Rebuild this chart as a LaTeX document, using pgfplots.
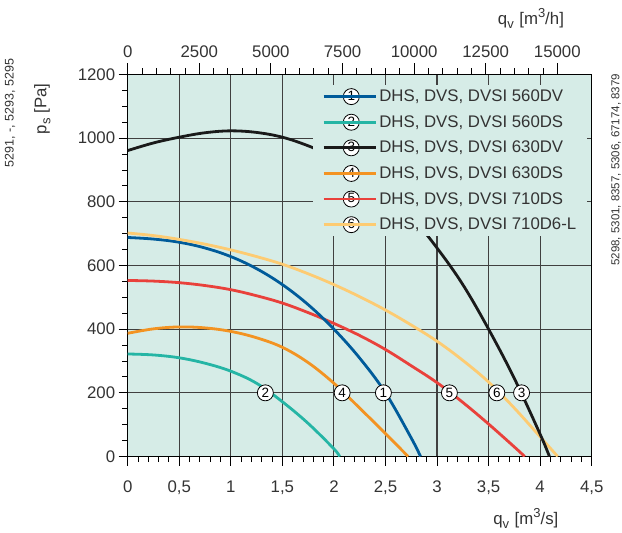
\documentclass[border=0pt]{standalone}
\usepackage{fontspec}
\setmainfont{Liberation Sans}
\usepackage{pgfplots}
\pgfplotsset{compat=1.18}
\definecolor{bg}{HTML}{D6ECE7}
\definecolor{gridc}{HTML}{404040}
\definecolor{txt}{HTML}{333333}
\definecolor{cBlue}{HTML}{005B9A}
\definecolor{cCyan}{HTML}{25B5A5}
\definecolor{cBlack}{HTML}{1A1A1A}
\definecolor{cOrange}{HTML}{F39322}
\definecolor{cRed}{HTML}{E9413B}
\definecolor{cYellow}{HTML}{FDCB72}
\tikzset{numcirc/.style={circle, draw=black, fill=white, line width=0.8bp, inner sep=0pt, minimum size=16bp, text=black, font=\fontsize{13.5bp}{14bp}\selectfont}}
\newcommand{\sub}[1]{\raisebox{-0.45ex}{\fontsize{13bp}{13bp}\selectfont #1}}
\newcommand{\sups}[1]{\raisebox{0.75ex}{\fontsize{13bp}{13bp}\selectfont #1}}
\begin{document}
\begin{tikzpicture}[font=\fontsize{16.8bp}{20bp}\selectfont]
\useasboundingbox (-127.7bp,-76.3bp) rectangle (494.3bp,456.5bp);
\begin{axis}[at={(0,0)}, anchor=south west, scale only axis, width=464bp, height=382bp,
  xmin=0, xmax=4.5, ymin=0, ymax=1200,
  axis background/.style={fill=bg},
  xtick={0,0.5,...,4.5},
  xticklabels={0,{0,5},1,{1,5},2,{2,5},3,{3,5},4,{4,5}},
  ytick={0,200,...,1200},
  yticklabels={0,200,400,600,800,1000,1200},
  minor x tick num=4, minor y tick num=3,
  xtick pos=bottom, ytick pos=left, tick align=outside,
  major tick length=9bp, minor tick length=5.5bp,
  every tick/.style={black, line width=0.9bp},
  grid=major, major grid style={line width=1.1bp, color=gridc},
  axis line style={line width=1.3bp, black},
  tick label style={text=txt},
  xticklabel style={yshift=-12bp},
  xlabel={q\sub{v}\,\,[m\sups{3}/s]},
  xlabel style={at={(axis description cs:0.858,-0.163)}, anchor=center, text=txt},
  ylabel={p\sub{s} [Pa]},
  ylabel style={at={(axis description cs:-0.184,0.91)}, anchor=center, text=txt},
  legend image code/.code={\draw[mark repeat=2, mark phase=2, #1] plot coordinates {(0bp,0bp) (19bp,0bp) (38bp,0bp)}; \path (0bp,0bp) -- (52bp,0bp);},
  legend cell align=left,
  legend style={at={(axis description cs:0.40,0.973)}, anchor=north west, fill=bg, draw=none,
    row sep=8.4bp, inner xsep=9bp, inner ysep=3bp, text=txt,
    font=\fontsize{16.8bp}{20bp}\selectfont},
  every axis plot/.append style={line width=2.8bp},
  smooth, tension=0.6,
  text mark as node=true,
  text mark style={/tikz/numcirc},
]
\addlegendimage{cBlue, mark=text, text mark={1}}
\addlegendentry{DHS, DVS, DVSI 560DV}
\addlegendimage{cCyan, mark=text, text mark={2}}
\addlegendentry{DHS, DVS, DVSI 560DS}
\addlegendimage{cBlack, mark=text, text mark={3}}
\addlegendentry{DHS, DVS, DVSI 630DV}
\addlegendimage{cOrange, mark=text, text mark={4}}
\addlegendentry{DHS, DVS, DVSI 630DS}
\addlegendimage{cRed, mark=text, text mark={5}}
\addlegendentry{DHS, DVS, DVSI 710DS}
\addlegendimage{cYellow, mark=text, text mark={6}}
\addlegendentry{DHS, DVS, DVSI 710D6-L}
% 2 cyan 560DS
\addplot[cCyan, forget plot] coordinates {(0,322) (0.25,319) (0.5,310) (0.75,293) (1.0,268) (1.25,230) (1.5,172) (1.75,104) (2.0,24) (2.055,0)};
% 4 orange 630DS
\addplot[cOrange, forget plot] coordinates {(0,387) (0.25,401) (0.5,407) (0.75,404) (1.0,393) (1.25,373) (1.5,343) (1.75,295) (2.0,230) (2.25,152) (2.5,72) (2.72,0)};
% 5 red 710DS
\addplot[cRed, forget plot] coordinates {(0,553) (0.25,551) (0.5,546) (0.75,537) (1.0,524) (1.25,505) (1.5,482) (1.75,452) (2.0,418) (2.25,380) (2.5,336) (2.75,285) (3.0,232) (3.25,170) (3.5,102) (3.75,30) (3.85,0)};
% 1 blue 560DV
\addplot[cBlue, forget plot] coordinates {(0,688) (0.25,683) (0.5,673) (0.75,655) (1.0,628) (1.25,590) (1.5,540) (1.75,477) (2.0,400) (2.25,309) (2.5,200) (2.75,58) (2.84,0)};
% 6 yellow 710D6-L
\addplot[cYellow, forget plot] coordinates {(0,702) (0.25,694) (0.5,682) (0.75,667) (1.0,649) (1.25,628) (1.5,604) (1.75,574) (2.0,540) (2.25,502) (2.5,460) (2.75,413) (3.0,362) (3.25,302) (3.5,234) (3.75,152) (4.0,62) (4.17,0)};
% 3 black 630DV
\addplot[cBlack, forget plot] coordinates {(0,961) (0.25,985) (0.5,1003) (0.75,1017) (1.0,1023) (1.25,1018) (1.5,1003) (1.75,976) (2.0,940) (2.25,895) (2.5,835) (2.75,755) (3.0,655) (3.25,540) (3.5,400) (3.75,245) (4.0,70) (4.09,0)};
% markers
\addplot[only marks, mark=none, forget plot, nodes near coords, point meta=explicit symbolic,
  nodes near coords style={numcirc, anchor=center}]
  table[meta=lab] {
x y lab
1.335 200 2
2.08 200 4
2.48 200 1
3.12 200 5
3.58 200 6
3.82 200 3
};
\end{axis}
\begin{axis}[at={(0,0)}, anchor=south west, scale only axis, width=464bp, height=382bp,
  xmin=0, xmax=16200, ymin=0, ymax=1,
  axis x line=top, axis y line=none,
  axis line style={-, line width=1.3bp, black},
  scaled x ticks=false,
  xtick={0,2500,5000,7500,10000,12500,15000},
  xticklabels={0,2500,5000,7500,10000,12500,15000},
  minor x tick num=4, tick align=outside,
  major tick length=11bp, minor tick length=6bp,
  every tick/.style={black, line width=0.9bp},
  tick label style={text=txt},
  xticklabel style={yshift=2bp},
  xlabel={q\sub{v}\,\,[m\sups{3}/h]},
  xlabel style={at={(axis description cs:0.869,1.147)}, anchor=center, text=txt},
]
\addplot[draw=none] coordinates {(0,0)};
\end{axis}
\node[rotate=90, text=txt, font=\fontsize{12.5bp}{14bp}\selectfont] at (-117.7bp,343.7bp) {5291, -, 5293, 5295};
\node[rotate=90, text=txt, font=\fontsize{11.5bp}{13bp}\selectfont] at (488.3bp,286.7bp) {5298, 5301, 8357, 5306, 67174, 8379};
\end{tikzpicture}
\end{document}
